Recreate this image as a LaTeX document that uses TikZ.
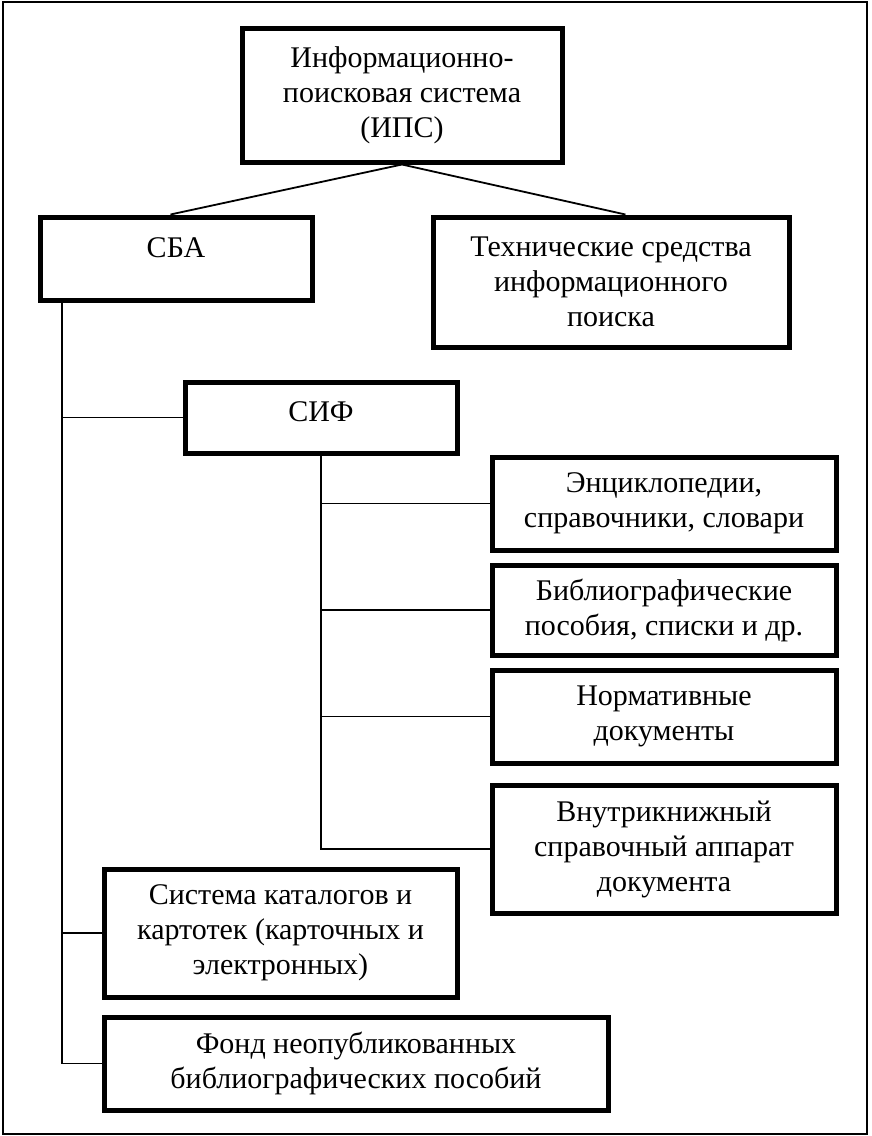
\documentclass[tikz,border=0pt]{standalone}
\usepackage{fontspec}
\setmainfont{Liberation Serif}
\usetikzlibrary{calc}
\begin{document}
\begin{tikzpicture}[x=1pt,y=-1pt,
  box/.style={draw, line width=5pt, rectangle, align=center, inner sep=0pt, font=\fontsize{30}{35}\selectfont},
  txt/.style={align=center, inner sep=0pt, font=\fontsize{30}{35}\selectfont},
  conn/.style={line width=1.8pt},
  frame/.style={line width=1.5pt}]
\useasboundingbox (0,0) rectangle (871,1136);
\draw[frame] (3,2) rectangle (867,1134);

\node[box, minimum width=320pt, minimum height=134pt] (ips) at (402,95) {Информационно-\\поисковая система\\(ИПС)};
\node[box, minimum width=272pt, minimum height=83pt] (sba) at (176,258.5) {};
\node[txt] (sbat) at (176,248) {СБА};
\node[box, minimum width=356pt, minimum height=130pt] (tech) at (611,282) {Технические средства\\информационного\\поиска};
\node[box, minimum width=272pt, minimum height=71pt] (sif) at (321,417.5) {};
\node[txt] (sift) at (321,412) {СИФ};
\node[box, minimum width=344pt, minimum height=93pt] (enc) at (664,503.5) {Энциклопедии,\\справочники, словари};
\node[box, minimum width=344pt, minimum height=90pt] (bib) at (664,610) {Библиографические\\пособия, списки и др.};
\node[box, minimum width=344pt, minimum height=93pt] (norm) at (664,716.5) {Нормативные\\документы};
\node[box, minimum width=344pt, minimum height=128pt] (vnutr) at (664,849) {Внутрикнижный\\справочный аппарат\\документа};
\node[box, minimum width=353pt, minimum height=128pt] (sist) at (280.5,933) {Система каталогов и\\картотек (карточных и\\электронных)};
\node[box, minimum width=504pt, minimum height=93pt] (fond) at (356,1063.5) {Фонд неопубликованных\\библиографических пособий};

% top connectors
\draw[conn] (ips.south) -- ($(sba.north west)!0.48!(sba.north east)$);
\draw[conn] (ips.south) -- ($(tech.north west)!0.54!(tech.north east)$);

% SBA trunk
\coordinate (sbaout) at ($(sba.south west)!0.088!(sba.south east)$);
\draw[conn] (sbaout) -- (sbaout |- fond.west) -- (fond.west);
\draw[conn] (sbaout |- sif.west) -- (sif.west);
\draw[conn] (sbaout |- sist.west) -- (sist.west);

% SIF trunk
\draw[conn] (sif.south) -- (sif.south |- vnutr.west) -- (vnutr.west);
\draw[conn] (sif.south |- enc.west) -- (enc.west);
\draw[conn] (sif.south |- bib.west) -- (bib.west);
\draw[conn] (sif.south |- norm.west) -- (norm.west);
\end{tikzpicture}
\end{document}
